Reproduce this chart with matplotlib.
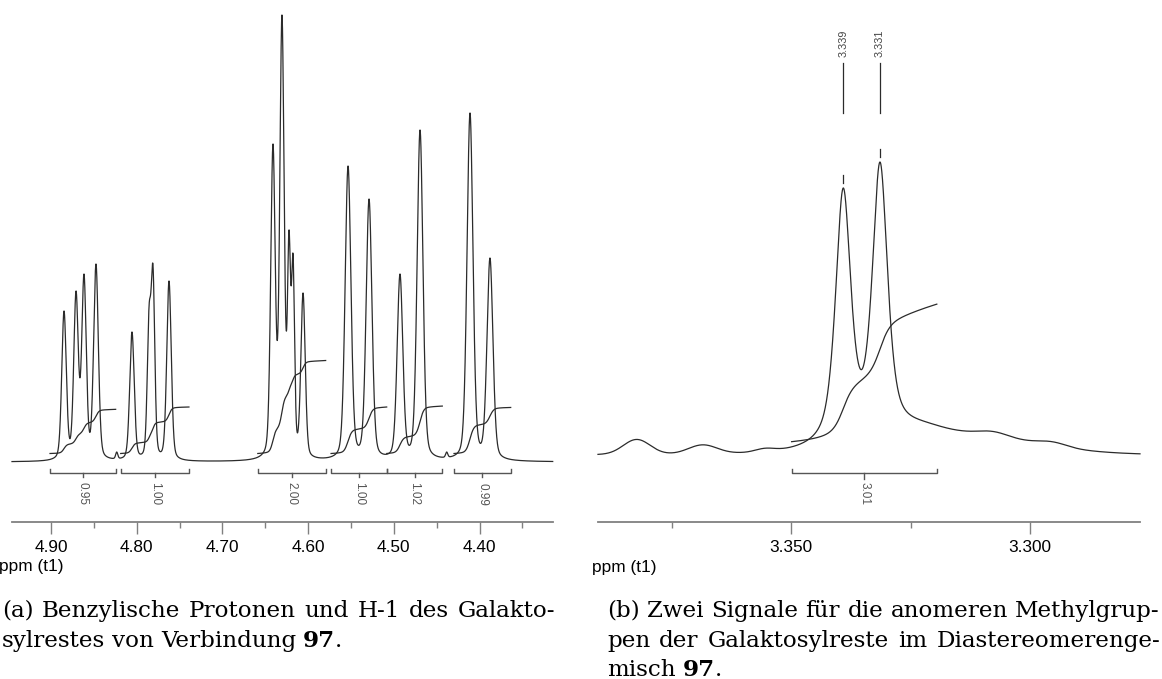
import numpy as np
import matplotlib
matplotlib.use("Agg")
import matplotlib.pyplot as plt

# ---- left spectrum: benzylic protons / H-1 (peak list) ----
left_ppm = [4.8848, 4.8708, 4.8615, 4.8475,
            4.8055, 4.7856, 4.7810, 4.7623,
            4.6410, 4.6305, 4.6223, 4.6176, 4.6059,
            4.5534, 4.5289, 4.4928, 4.4694, 4.4111, 4.3878,
            4.8233, 4.4383]
left_height = [151, 171, 188, 198,
               130, 156, 197, 181,
               318, 447, 232, 208, 169,
               296, 263, 188, 332, 349, 204,
               10, 10]
left_fwhm = [0.0062, 0.0062, 0.0062, 0.0065,
             0.0062, 0.0050, 0.0050, 0.0062,
             0.0062, 0.0060, 0.0042, 0.0042, 0.0060,
             0.0080, 0.0080, 0.0078, 0.0080, 0.0082, 0.0082,
             0.0030, 0.0030]
left_int_lo = [4.9012, 4.8187, 4.6588, 4.5733, 4.5083, 4.4298]
left_int_hi = [4.8245, 4.7390, 4.5795, 4.5083, 4.4434, 4.3636]
left_int_val = [0.95, 1.00, 2.00, 1.00, 1.02, 0.99]
left_ticks = [4.90, 4.80, 4.70, 4.60, 4.50, 4.40]
left_minor = [4.85, 4.75, 4.65, 4.55, 4.45, 4.35]

# ---- right spectrum: anomeric OMe groups ----
right_ppm = [3.3391, 3.3314]
right_height = [270, 296]
right_fwhm = [0.0038, 0.0038]
right_peak_labels = ["3.339", "3.331"]
# broad baseline features (ppm, height, sigma)
bg_ppm = [3.3150, 3.3823, 3.3685, 3.3555, 3.3235, 3.3077, 3.2953]
bg_height = [20, 15, 9, 3, 7, 4, 4]
bg_sigma = [0.0150, 0.0028, 0.0030, 0.0020, 0.0045, 0.0030, 0.0030]
bg_offset = 3
right_int_lo = [3.3499]
right_int_hi = [3.3195]
right_int_val = [3.01]
right_ticks = [3.350, 3.300]
right_minor = [3.375, 3.325]

W, H = 1162, 679
fig = plt.figure(figsize=(W / 100, H / 100), dpi=100)
LINE = "#2b2b2b"
AXC = "#808080"
SANS = "Liberation Sans"


def pv(x, x0, fwhm, eta=0.28):
    g = fwhm / 2
    s = fwhm / 2.3548
    return eta * g**2 / ((x - x0) ** 2 + g**2) + (1 - eta) * np.exp(-(x - x0) ** 2 / (2 * s**2))


def amplitudes(pos, fwhm, target, eta):
    M = np.array([[pv(p, q, w, eta) for q, w in zip(pos, fwhm)] for p in pos])
    return np.clip(np.linalg.solve(M, np.asarray(target, float)), 0, None)


def make_axes(x0, x1, ybot, y_zero, xlim):
    ax = fig.add_axes([x0 / W, 1 - ybot / H, (x1 - x0) / W, ybot / H])
    ax.set_xlim(*xlim)
    ax.set_ylim(-(ybot - y_zero), y_zero)
    for s in ["left", "right", "top"]:
        ax.spines[s].set_visible(False)
    ax.spines["bottom"].set_color(AXC)
    ax.spines["bottom"].set_linewidth(1.3)
    ax.set_yticks([])
    ax.tick_params(axis="x", which="major", direction="out", length=8.4, width=1.0,
                   color=AXC, pad=4.6, labelsize=12.4)
    ax.tick_params(axis="x", which="minor", direction="out", length=4.1, width=1.0, color=AXC)
    return ax


def bracket(ax, lo, hi, y, up, down, text, ytext, fs=8.5):
    ax.plot([lo, lo, hi, hi], [y + up, y, y, y + up], color="#555555", lw=1.0)
    mid = (lo + hi) / 2
    ax.plot([mid, mid], [y, y - down], color="#555555", lw=1.0)
    ax.text(mid, ytext, text, rotation=270, ha="center", va="center",
            fontsize=fs, color="#555555", family=SANS)


# ---------------- left panel ----------------
axL = make_axes(12, 552.7, 521.7, 462, (4.9455, 4.3146))
xl = np.linspace(4.9455, 4.3146, 6000)
ampL = amplitudes(left_ppm, left_fwhm, left_height, 0.28)
specL = sum(a * pv(xl, p, w, 0.28) for a, p, w in zip(ampL, left_ppm, left_fwhm))
axL.plot(xl, specL, color=LINE, lw=0.9, clip_on=False)

for lo, hi, v in zip(left_int_lo, left_int_hi, left_int_val):
    m = (xl <= lo) & (xl >= hi)
    cum = np.cumsum(specL[m])
    axL.plot(xl[m], 8.5 + cum / cum[-1] * v * 46.5, color=LINE, lw=0.9)
    bracket(axL, lo, hi, -11.3, 4, 3.7, f"{v:.2f}", -32)

axL.set_xticks(left_ticks)
axL.set_xticklabels([f"{t:.2f}" for t in left_ticks], family=SANS)
axL.set_xticks(left_minor, minor=True)

# ---------------- right panel ----------------
axR = make_axes(598, 1140, 521.7, 458, (3.3904, 3.2770))
xr = np.linspace(3.3904, 3.2770, 6000)


def background(x):
    x = np.asarray(x, float)
    return bg_offset + sum(h * np.exp(-(x - p) ** 2 / (2 * s**2))
                           for p, h, s in zip(bg_ppm, bg_height, bg_sigma))


ETA_R = 0.65
ampR = amplitudes(right_ppm, right_fwhm,
                  np.array(right_height) - background(right_ppm), ETA_R)
specR = background(xr) + sum(a * pv(xr, p, w, ETA_R) for a, p, w in zip(ampR, right_ppm, right_fwhm))
axR.plot(xr, specR, color=LINE, lw=0.9, clip_on=False)

for lo, hi, v in zip(right_int_lo, right_int_hi, right_int_val):
    m = (xr <= lo) & (xr >= hi)
    cum = np.cumsum(specR[m])
    axR.plot(xr[m], 16.3 + cum / cum[-1] * v * 45.7, color=LINE, lw=0.9)
    bracket(axR, lo, hi, -14.7, 3.4, 6.6, f"{v:.2f}", -36)

for p, h, lab in zip(right_ppm, right_height, right_peak_labels):
    axR.plot([p, p], [345, 395], color=LINE, lw=0.9)
    axR.plot([p, p], [h + 5, h + 13], color=LINE, lw=0.9)
    axR.text(p, 414.5, lab, rotation=90, ha="center", va="center",
             fontsize=7.8, color="#444444", family=SANS)

axR.set_xticks(right_ticks)
axR.set_xticklabels([f"{t:.3f}" for t in right_ticks], family=SANS)
axR.set_xticks(right_minor, minor=True)

fig.text(-1 / W, 1 - 567 / H, "ppm (t1)", ha="left", va="center", fontsize=12.4, family=SANS)
fig.text(592 / W, 1 - 567.5 / H, "ppm (t1)", ha="left", va="center", fontsize=12.4, family=SANS)

# ---------------- captions (justified like the LaTeX source) ----------------
SERIF = "DejaVu Serif"
renderer = fig.canvas.get_renderer()


def words(s, bold=()):
    out = []
    for w in s.split(" "):
        if w in bold:
            out.append([(w.rstrip("."), "bold")] + ([(".", "normal")] if w.endswith(".") else []))
        else:
            out.append([(w, "normal")])
    return out


def natural_width(s, fs):
    t = fig.text(0, 0, s, fontsize=fs, family=SERIF)
    w = t.get_window_extent(renderer).width
    t.remove()
    return w


# font size chosen so the first line sets naturally into the column width
cap_fs = 15 * 548 / natural_width("(a) Benzylische Protonen und H-1 des Galakto-", 15)


def caption_line(x0, x1, ybase, wlist, justify):
    pieces, widths = [], []
    for word in wlist:
        parts, wsum = [], 0
        for txt, wt in word:
            t = fig.text(0, 0, txt, fontsize=cap_fs, family=SERIF, weight=wt, va="baseline")
            w = t.get_window_extent(renderer).width
            parts.append((t, w))
            wsum += w
        pieces.append(parts)
        widths.append(wsum)
    if justify and len(wlist) > 1:
        gap = (x1 - x0 - sum(widths)) / (len(wlist) - 1)
    else:
        gap = cap_fs * 100 / 72 * 0.3
    x = x0
    for parts, wsum in zip(pieces, widths):
        xx = x
        for t, w in parts:
            t.set_position((xx / W, 1 - ybase / H))
            xx += w
        x += wsum + gap


caption_line(2, 555, 617, words("(a) Benzylische Protonen und H-1 des Galakto-"), True)
caption_line(2, 555, 647, words("sylrestes von Verbindung 97.", bold=("97.",)), False)
caption_line(607, 1160, 617, words("(b) Zwei Signale für die anomeren Methylgrup-"), True)
caption_line(607, 1160, 647, words("pen der Galaktosylreste im Diastereomerenge-"), True)
caption_line(607, 1160, 676, words("misch 97.", bold=("97.",)), False)

fig.savefig("out.png", dpi=100)
